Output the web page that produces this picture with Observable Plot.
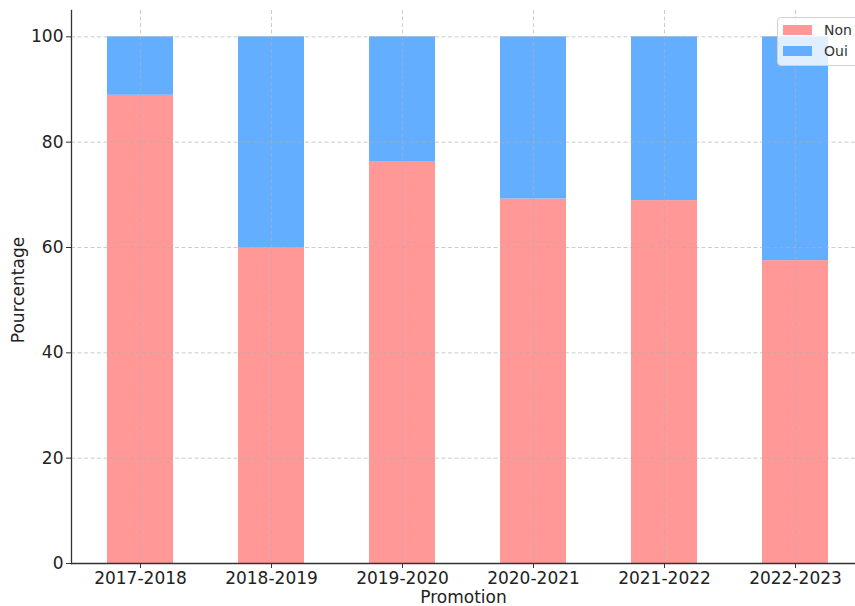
<!DOCTYPE html>
<html>
<head>
<meta charset="utf-8">
<script src="https://cdn.jsdelivr.net/npm/d3@7"></script>
<script src="https://cdn.jsdelivr.net/npm/@observablehq/plot@0.6"></script>
<style>
  html, body { margin: 0; padding: 0; background: #fff; overflow: hidden; }
  #wrap { position: relative; width: 855px; height: 606px; overflow: hidden; font-family: "DejaVu Sans", sans-serif; }
  #wrap svg { max-width: none !important; }
  #legend { position: absolute; left: 777px; top: 17px; width: 100px; height: 47px; background: rgba(255,255,255,0.8); border: 1px solid #d0d0d0; border-radius: 4px; font-size: 14px; color: #333; }
  .row { position: absolute; left: 5px; display: flex; align-items: center; }
  .sw { width: 29px; height: 10px; margin-right: 12px; }
</style>
</head>
<body>
<div id="wrap"></div>
<script>
const promotions = ["2017-2018", "2018-2019", "2019-2020", "2020-2021", "2021-2022", "2022-2023"];
const non = [88.9, 60.0, 76.2, 69.2, 68.9, 57.5];
const oui = non.map(v => 100 - v);
const series = ["Non", "Oui"];
const colors = ["#ff9896", "#63aefe"];
const yTicks = [0, 20, 40, 60, 80, 100];

const data = [];
promotions.forEach((p, i) => {
  data.push({promotion: p, serie: "Non", value: non[i]});
  data.push({promotion: p, serie: "Oui", value: oui[i]});
});

const fs = 17;
const plot = Plot.plot({
  width: 861,
  height: 606,
  marginLeft: 71,
  marginRight: 0,
  marginTop: 10,
  marginBottom: 43,
  style: {fontFamily: "DejaVu Sans, sans-serif", fontSize: fs + "px", color: "#222", background: "white", maxWidth: "none"},
  x: {domain: promotions, range: [73.7, 860], paddingInner: 0.5, paddingOuter: 0.25, label: null},
  y: {domain: [0, 105], label: null},
  color: {domain: series, range: colors},
  marks: [
    Plot.barY(data, {x: "promotion", y: "value", fill: "serie", order: series}),
    Plot.gridY(yTicks, {stroke: "#b0b0b0", strokeOpacity: 0.7, strokeDasharray: "4,2.5", strokeWidth: 0.9}),
    Plot.ruleX(promotions, {x: d => d, stroke: "#b0b0b0", strokeOpacity: 0.7, strokeDasharray: "4,2.5", strokeWidth: 0.9}),
    Plot.axisY(yTicks, {tickSize: 5, tickPadding: 3, stroke: "#333", fill: "#222", fontSize: fs, label: null}),
    Plot.axisX({tickSize: 5, tickPadding: 3, stroke: "#333", fill: "#222", fontSize: fs, label: null}),
    Plot.frame({anchor: "left", stroke: "#333", strokeWidth: 1.3}),
    Plot.frame({anchor: "bottom", stroke: "#333", strokeWidth: 1.3}),
    Plot.text(["Promotion"], {frameAnchor: "bottom", textAnchor: "middle", dx: -3, dy: 39, fontSize: fs, fill: "#222", text: d => d}),
    Plot.text(["Pourcentage"], {frameAnchor: "left", textAnchor: "middle", dx: -53, dy: 3, rotate: -90, fontSize: fs, fill: "#222", text: d => d})
  ]
});
document.getElementById("wrap").appendChild(plot);

const legend = document.createElement("div");
legend.id = "legend";
series.forEach((s, i) => {
  const row = document.createElement("div");
  row.className = "row";
  row.style.top = (4 + i * 21) + "px";
  const sw = document.createElement("span");
  sw.className = "sw";
  sw.style.background = colors[i];
  const t = document.createElement("span");
  t.textContent = s;
  row.appendChild(sw);
  row.appendChild(t);
  legend.appendChild(row);
});
document.getElementById("wrap").appendChild(legend);
</script>
</body>
</html>
